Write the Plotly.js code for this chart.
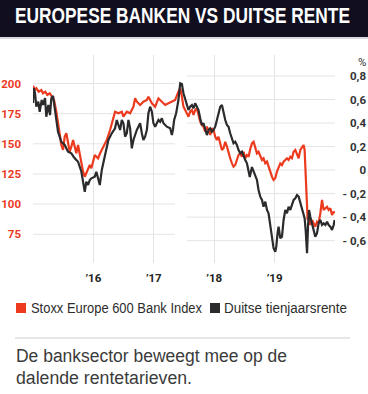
<!DOCTYPE html>
<html><head><meta charset="utf-8">
<script src="https://cdn.plot.ly/plotly-3.0.1.min.js"></script>
<style>
html,body{margin:0;padding:0;background:#fff;}
#wrap{position:relative;width:368px;height:394px;overflow:hidden;font-family:'Liberation Sans',Arial,sans-serif;}
#chart{position:absolute;left:0;top:0;width:368px;height:394px;}
#titlebar{position:absolute;left:0;top:0;width:368px;height:37px;background:#110f1f;border-bottom:2px solid #d9d9e0;}
.fit{position:absolute;display:inline-block;white-space:nowrap;transform-origin:0 50%;}
#title{left:15px;top:0;height:32px;line-height:32px;color:#fff;font-weight:bold;font-size:22px;}
.sq{position:absolute;top:303px;width:10px;height:10px;}
.lg{top:301px;height:14px;line-height:14px;font-size:14px;color:#2d2d2d;}
#sep{position:absolute;left:15px;top:337px;width:335px;height:2px;background:#e6e6e6;}
.cap{left:16px;height:21.7px;line-height:21.7px;font-size:18px;color:#3b3b3b;}
</style></head>
<body>
<div id="wrap">
  <div id="chart"></div>
  <div id="titlebar"></div>
  <div id="title" class="fit" data-w="335">EUROPESE BANKEN VS DUITSE RENTE</div>
  <div class="sq" style="left:16px;background:#ee3a1f;"></div>
  <div class="fit lg" style="left:31px;" data-w="171">Stoxx Europe 600 Bank Index</div>
  <div class="sq" style="left:210px;background:#2b2b2e;"></div>
  <div class="fit lg" style="left:224px;" data-w="123">Duitse tienjaarsrente</div>
  <div id="sep"></div>
  <div class="fit cap" style="top:346px;" data-w="271">De banksector beweegt mee op de</div>
  <div class="fit cap" style="top:367.7px;" data-w="176">dalende rentetarieven.</div>
</div>
<script>
// Stoxx Europe 600 Bank Index (left axis)
const bankYears = [2015.000,2015.028,2015.055,2015.094,2015.138,2015.166,2015.204,2015.237,2015.277,2015.315,
2015.348,2015.386,2015.414,2015.443,2015.469,2015.497,2015.525,2015.552,2015.580,2015.608,
2015.635,2015.663,2015.691,2015.718,2015.746,2015.774,2015.801,2015.829,2015.857,2015.883,
2015.912,2015.940,2015.966,2015.995,2016.023,2016.049,2016.077,2016.111,2016.165,2016.222,
2016.276,2016.331,2016.359,2016.414,2016.470,2016.497,2016.553,2016.608,2016.663,2016.691,
2016.719,2016.774,2016.828,2016.885,2016.911,2016.968,2017.022,2017.077,2017.133,2017.188,
2017.243,2017.299,2017.354,2017.408,2017.437,2017.465,2017.491,2017.520,2017.548,2017.574,
2017.602,2017.631,2017.657,2017.685,2017.713,2017.740,2017.768,2017.796,2017.823,2017.851,
2017.879,2017.906,2017.934,2017.962,2017.989,2018.017,2018.045,2018.071,2018.100,2018.128,
2018.154,2018.183,2018.211,2018.237,2018.265,2018.294,2018.320,2018.348,2018.376,2018.403,
2018.431,2018.459,2018.486,2018.514,2018.542,2018.569,2018.597,2018.625,2018.652,2018.680,
2018.708,2018.734,2018.763,2018.791,2018.817,2018.846,2018.874,2018.900,2018.928,2018.957,
2018.983,2019.011,2019.039,2019.066,2019.094,2019.122,2019.149,2019.177,2019.205,2019.232,
2019.260,2019.288,2019.315,2019.343,2019.371,2019.398,2019.426,2019.454,2019.480,2019.497,
2019.514,2019.537,2019.547,2019.563,2019.591,2019.620,2019.646,2019.674,2019.702,2019.729,
2019.757,2019.785,2019.812,2019.840,2019.868,2019.895,2019.923,2019.951,2019.978,2019.994];
const bankIndex = [198.2,194.6,196.0,193.2,194.6,191.9,193.2,190.5,191.9,189.1,
186.3,176.6,165.6,157.3,149.0,144.9,155.9,158.7,151.7,143.4,
147.6,153.2,147.6,142.1,149.0,140.7,135.2,126.9,122.7,125.5,
128.3,132.4,129.7,135.2,140.7,139.3,138.0,142.1,147.6,153.2,
161.4,172.5,176.6,175.3,176.6,172.5,176.6,175.3,180.8,187.7,
184.9,182.2,184.9,186.3,189.1,183.6,180.8,187.7,184.9,182.2,
183.6,184.9,186.3,193.2,196.0,189.1,180.8,178.0,175.3,172.5,
176.6,178.0,173.9,178.0,179.4,173.9,168.3,165.6,164.2,160.0,
164.2,161.4,157.3,162.9,161.4,155.9,153.2,155.9,149.0,144.9,
146.3,151.7,147.6,142.1,138.0,133.8,131.0,132.4,136.6,140.7,
142.1,139.3,143.4,138.0,140.7,139.3,145.7,150.4,151.7,146.3,
142.1,143.4,139.3,136.6,138.0,133.8,135.2,131.0,126.9,122.7,
120.0,121.4,126.9,129.7,133.8,132.4,135.2,136.6,138.0,136.6,
139.3,138.0,143.4,144.9,140.7,138.0,144.9,147.6,149.0,144.9,
122.7,100.7,86.8,89.6,82.7,86.8,84.1,81.3,85.4,84.1,
92.4,103.4,95.1,96.5,97.8,95.1,96.5,91.0,93.7,92.4];

// Duitse tienjaarsrente, % (right axis)
const bundYears = [2015.000,2015.012,2015.033,2015.055,2015.088,2015.111,2015.144,2015.166,2015.199,2015.220,
2015.254,2015.282,2015.303,2015.332,2015.360,2015.386,2015.414,2015.469,2015.525,2015.580,
2015.635,2015.691,2015.746,2015.801,2015.829,2015.857,2015.883,2015.912,2015.940,2015.966,
2016.023,2016.049,2016.077,2016.106,2016.139,2016.193,2016.248,2016.304,2016.359,2016.387,
2016.414,2016.442,2016.470,2016.497,2016.525,2016.553,2016.580,2016.608,2016.636,2016.663,
2016.719,2016.774,2016.802,2016.828,2016.856,2016.885,2016.911,2016.939,2016.968,2016.994,
2017.022,2017.077,2017.105,2017.133,2017.160,2017.216,2017.271,2017.299,2017.316,2017.337,
2017.370,2017.408,2017.437,2017.465,2017.491,2017.520,2017.548,2017.574,2017.602,2017.631,
2017.657,2017.685,2017.713,2017.740,2017.768,2017.796,2017.823,2017.851,2017.879,2017.906,
2017.934,2017.962,2017.989,2018.017,2018.045,2018.071,2018.100,2018.128,2018.154,2018.183,
2018.211,2018.237,2018.265,2018.294,2018.320,2018.348,2018.376,2018.403,2018.431,2018.459,
2018.486,2018.514,2018.542,2018.569,2018.589,2018.625,2018.652,2018.680,2018.708,2018.734,
2018.763,2018.791,2018.817,2018.846,2018.874,2018.900,2018.928,2018.957,2018.983,2019.011,
2019.028,2019.049,2019.066,2019.094,2019.122,2019.149,2019.177,2019.205,2019.232,2019.260,
2019.288,2019.315,2019.343,2019.371,2019.398,2019.426,2019.454,2019.480,2019.497,2019.514,
2019.537,2019.553,2019.570,2019.591,2019.620,2019.646,2019.674,2019.702,2019.729,2019.757,
2019.785,2019.812,2019.840,2019.868,2019.895,2019.923,2019.951,2019.978,2019.994];
const bundYield = [0.570,0.698,0.655,0.539,0.581,0.496,0.596,0.553,0.613,0.454,
0.553,0.468,0.610,0.630,0.525,0.411,0.326,0.241,0.213,0.156,
0.143,0.100,0.071,-0.014,-0.099,-0.184,-0.099,-0.127,-0.084,-0.070,
-0.056,-0.014,-0.070,-0.127,0.001,0.143,0.256,0.313,0.355,0.426,
0.383,0.341,0.426,0.398,0.284,0.313,0.426,0.355,0.185,0.256,
0.341,0.398,0.313,0.256,0.284,0.341,0.483,0.539,0.496,0.398,
0.369,0.426,0.411,0.440,0.398,0.369,0.355,0.298,0.341,0.426,
0.483,0.596,0.738,0.732,0.653,0.610,0.568,0.511,0.539,0.553,
0.525,0.568,0.539,0.511,0.440,0.383,0.398,0.341,0.298,0.341,
0.355,0.326,0.341,0.369,0.426,0.454,0.539,0.553,0.483,0.426,
0.383,0.369,0.313,0.256,0.228,0.241,0.213,0.171,0.143,0.156,
0.114,0.086,0.058,0.001,-0.059,0.026,-0.014,-0.056,-0.084,-0.169,
-0.226,-0.254,-0.311,-0.269,-0.339,-0.367,-0.481,-0.594,-0.665,-0.694,
-0.651,-0.537,-0.481,-0.580,-0.566,-0.424,-0.339,-0.367,-0.311,-0.339,
-0.297,-0.254,-0.240,-0.212,-0.226,-0.282,-0.339,-0.396,-0.410,-0.509,
-0.707,-0.481,-0.339,-0.396,-0.452,-0.509,-0.566,-0.537,-0.452,-0.424,
-0.467,-0.452,-0.467,-0.439,-0.467,-0.481,-0.509,-0.467,-0.424];

const yearTicks = [2016, 2017, 2018, 2019];
const yearLabels = ['\u201916', '\u201917', '\u201918', '\u201919'];
const leftTicks = [75, 100, 125, 150, 175, 200];
const rightTicks = [-0.6, -0.4, -0.2, 0, 0.2, 0.4, 0.6, 0.8];
const rightLabels = ['- 0,6', '- 0,4', '- 0,2', '0', '0,2', '0,4', '0,6', '0,8'];

// squeeze HTML texts horizontally to the reference's condensed widths
document.querySelectorAll('.fit').forEach(el => {
  const w = el.getBoundingClientRect().width;
  el.style.transform = 'scaleX(' + (parseFloat(el.dataset.w) / w) + ')';
});

const FONT = "Roboto, 'Liberation Sans', sans-serif";
const RED = '#ec3a1f', DARK = '#2b2b2e', GRID = '#e4e4e4';
const XDOM = 302 / 335;

const shapes = [];
leftTicks.forEach(v => shapes.push({type:'line', layer:'below', xref:'paper', yref:'y',
  x0:0, x1:142/335, y0:v, y1:v, line:{color:GRID, width:1}}));
rightTicks.forEach(v => shapes.push({type:'line', layer:'below', xref:'paper', yref:'y2',
  x0:154/335, x1:XDOM, y0:v, y1:v, line:{color:GRID, width:1}}));

const traces = [
  {x: bundYears, y: bundYield, yaxis:'y2', type:'scatter', mode:'lines', name:'Duitse tienjaarsrente',
   line:{color:DARK, width:2.2}, showlegend:false, hoverinfo:'skip'},
  {x: bankYears, y: bankIndex, yaxis:'y', type:'scatter', mode:'lines', name:'Stoxx Europe 600 Bank Index',
   line:{color:RED, width:2.2}, showlegend:false, hoverinfo:'skip'}
];

const layout = {
  width:368, height:394,
  margin:{l:33, r:0, t:55, b:131, pad:0},
  paper_bgcolor:'rgba(0,0,0,0)', plot_bgcolor:'rgba(0,0,0,0)',
  showlegend:false,
  font:{family:FONT},
  xaxis:{domain:[0, XDOM], range:[2015, 2020], tickmode:'array', tickvals:yearTicks, ticktext:yearLabels,
    showgrid:true, gridcolor:GRID, gridwidth:1, zeroline:false, showline:false, ticks:'',
    ticklabelstandoff:6, tickfont:{family:FONT, size:11.5, color:'#222', weight:'bold'}, fixedrange:true},
  yaxis:{range:[51.16, 223.63], tickmode:'array', tickvals:leftTicks, showgrid:false, zeroline:false,
    showline:false, ticks:'', ticklabelstandoff:11, tickfont:{family:FONT, size:11.5, color:RED, weight:'bold'}, fixedrange:true},
  yaxis2:{overlaying:'y', anchor:'free', position:1, side:'left', range:[-0.7901, 0.9786],
    tickmode:'array', tickvals:rightTicks, ticktext:rightLabels, showgrid:false, zeroline:false,
    showline:false, ticks:'', ticklabelstandoff:2, tickfont:{family:FONT, size:11.5, color:'#333', weight:'bold'}, fixedrange:true},
  shapes: shapes,
  annotations:[{xref:'paper', yref:'paper', x:1, y:(263-62)/208, xanchor:'right', yanchor:'middle',
    text:'%', showarrow:false, font:{family:FONT, size:11.5, color:'#333'}}]
};

Plotly.newPlot('chart', traces, layout, {staticPlot:true, displayModeBar:false});
</script>
</body></html>
